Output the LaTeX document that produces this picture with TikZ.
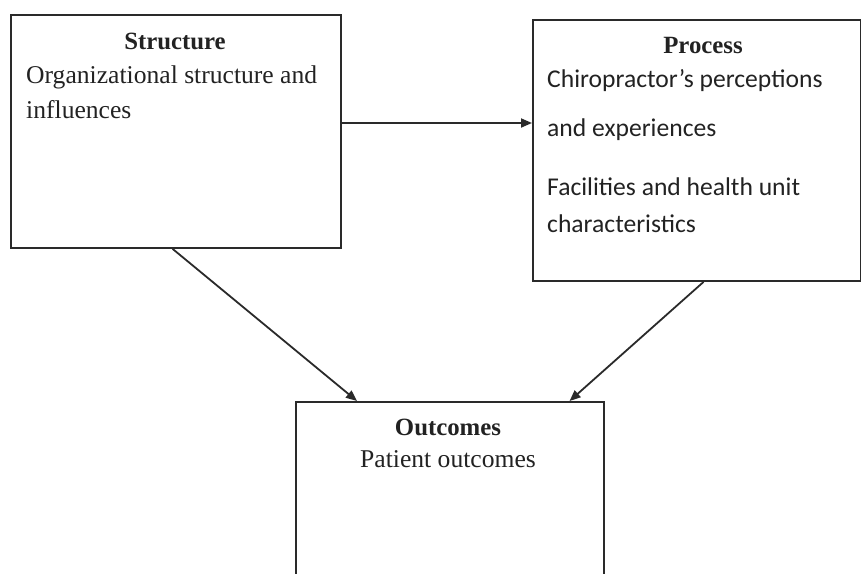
\documentclass[tikz,border=0pt]{standalone}
\usepackage{fontspec}
\setmainfont{Liberation Serif}
\newfontfamily\calfont{Carlito}
\usetikzlibrary{arrows.meta,calc}
\definecolor{linecol}{HTML}{2A2A2A}
\definecolor{textcol}{HTML}{222222}
\tikzset{
  box/.style={draw=linecol, line width=1.9pt, fill=none, inner sep=0pt, anchor=north west},
  txt/.style={inner sep=0pt, text=textcol, font=\fontsize{25.6}{30}\selectfont},
  head/.style={txt, font=\fontsize{24.8}{30}\selectfont\bfseries},
  ctxt/.style={txt, font=\fontsize{25.6}{30}\selectfont\calfont},
  conn/.style={draw=linecol, line width=1.8pt, -{Triangle[length=11pt,width=9pt]}}
}
\begin{document}
\begin{tikzpicture}[x=1pt,y=1pt]
\useasboundingbox (0,0) rectangle (861,-573);
\clip (0,0) rectangle (861,-573);
% boxes
\node[box, minimum width=330pt, minimum height=233pt] (S) at (10,-14) {};
\node[box, minimum width=328pt, minimum height=261pt] (P) at (532,-19) {};
\node[box, minimum width=308pt, minimum height=200pt] (O) at (295,-401) {};
% Structure texts
\node[head, anchor=base] (St) at (175,-49) {Structure};
\node[txt, anchor=base west] (S1) at (26,-83) {Organizational structure and};
\node[txt, anchor=base west] (S2) at (26,-118) {influences};
% Process texts
\node[head, anchor=base] (Pt) at (703,-53) {Process};
\node[ctxt, anchor=base west] (P1) at (547,-87) {Chiropractor’s perceptions};
\node[ctxt, anchor=base west] (P2) at (547,-136) {and experiences};
\node[ctxt, anchor=base west] (P3) at (547,-195) {Facilities and health unit};
\node[ctxt, anchor=base west] (P4) at (547,-232) {characteristics};
% Outcomes texts
\node[head, anchor=base] (Ot) at (448,-435) {Outcomes};
\node[txt, anchor=base] (O1) at (448,-467) {Patient outcomes};
% connectors
\coordinate (h) at (0,-123);
\draw[conn] (S.east |- h) -- (P.west |- h);
\draw[conn] ($(S.south west)!0.49!(S.south east)$) -- ($(O.north west)!0.2!(O.north east)$);
\draw[conn] ($(P.south west)!0.52!(P.south east)$) -- ($(O.north west)!0.886!(O.north east)$);
\end{tikzpicture}
\end{document}
